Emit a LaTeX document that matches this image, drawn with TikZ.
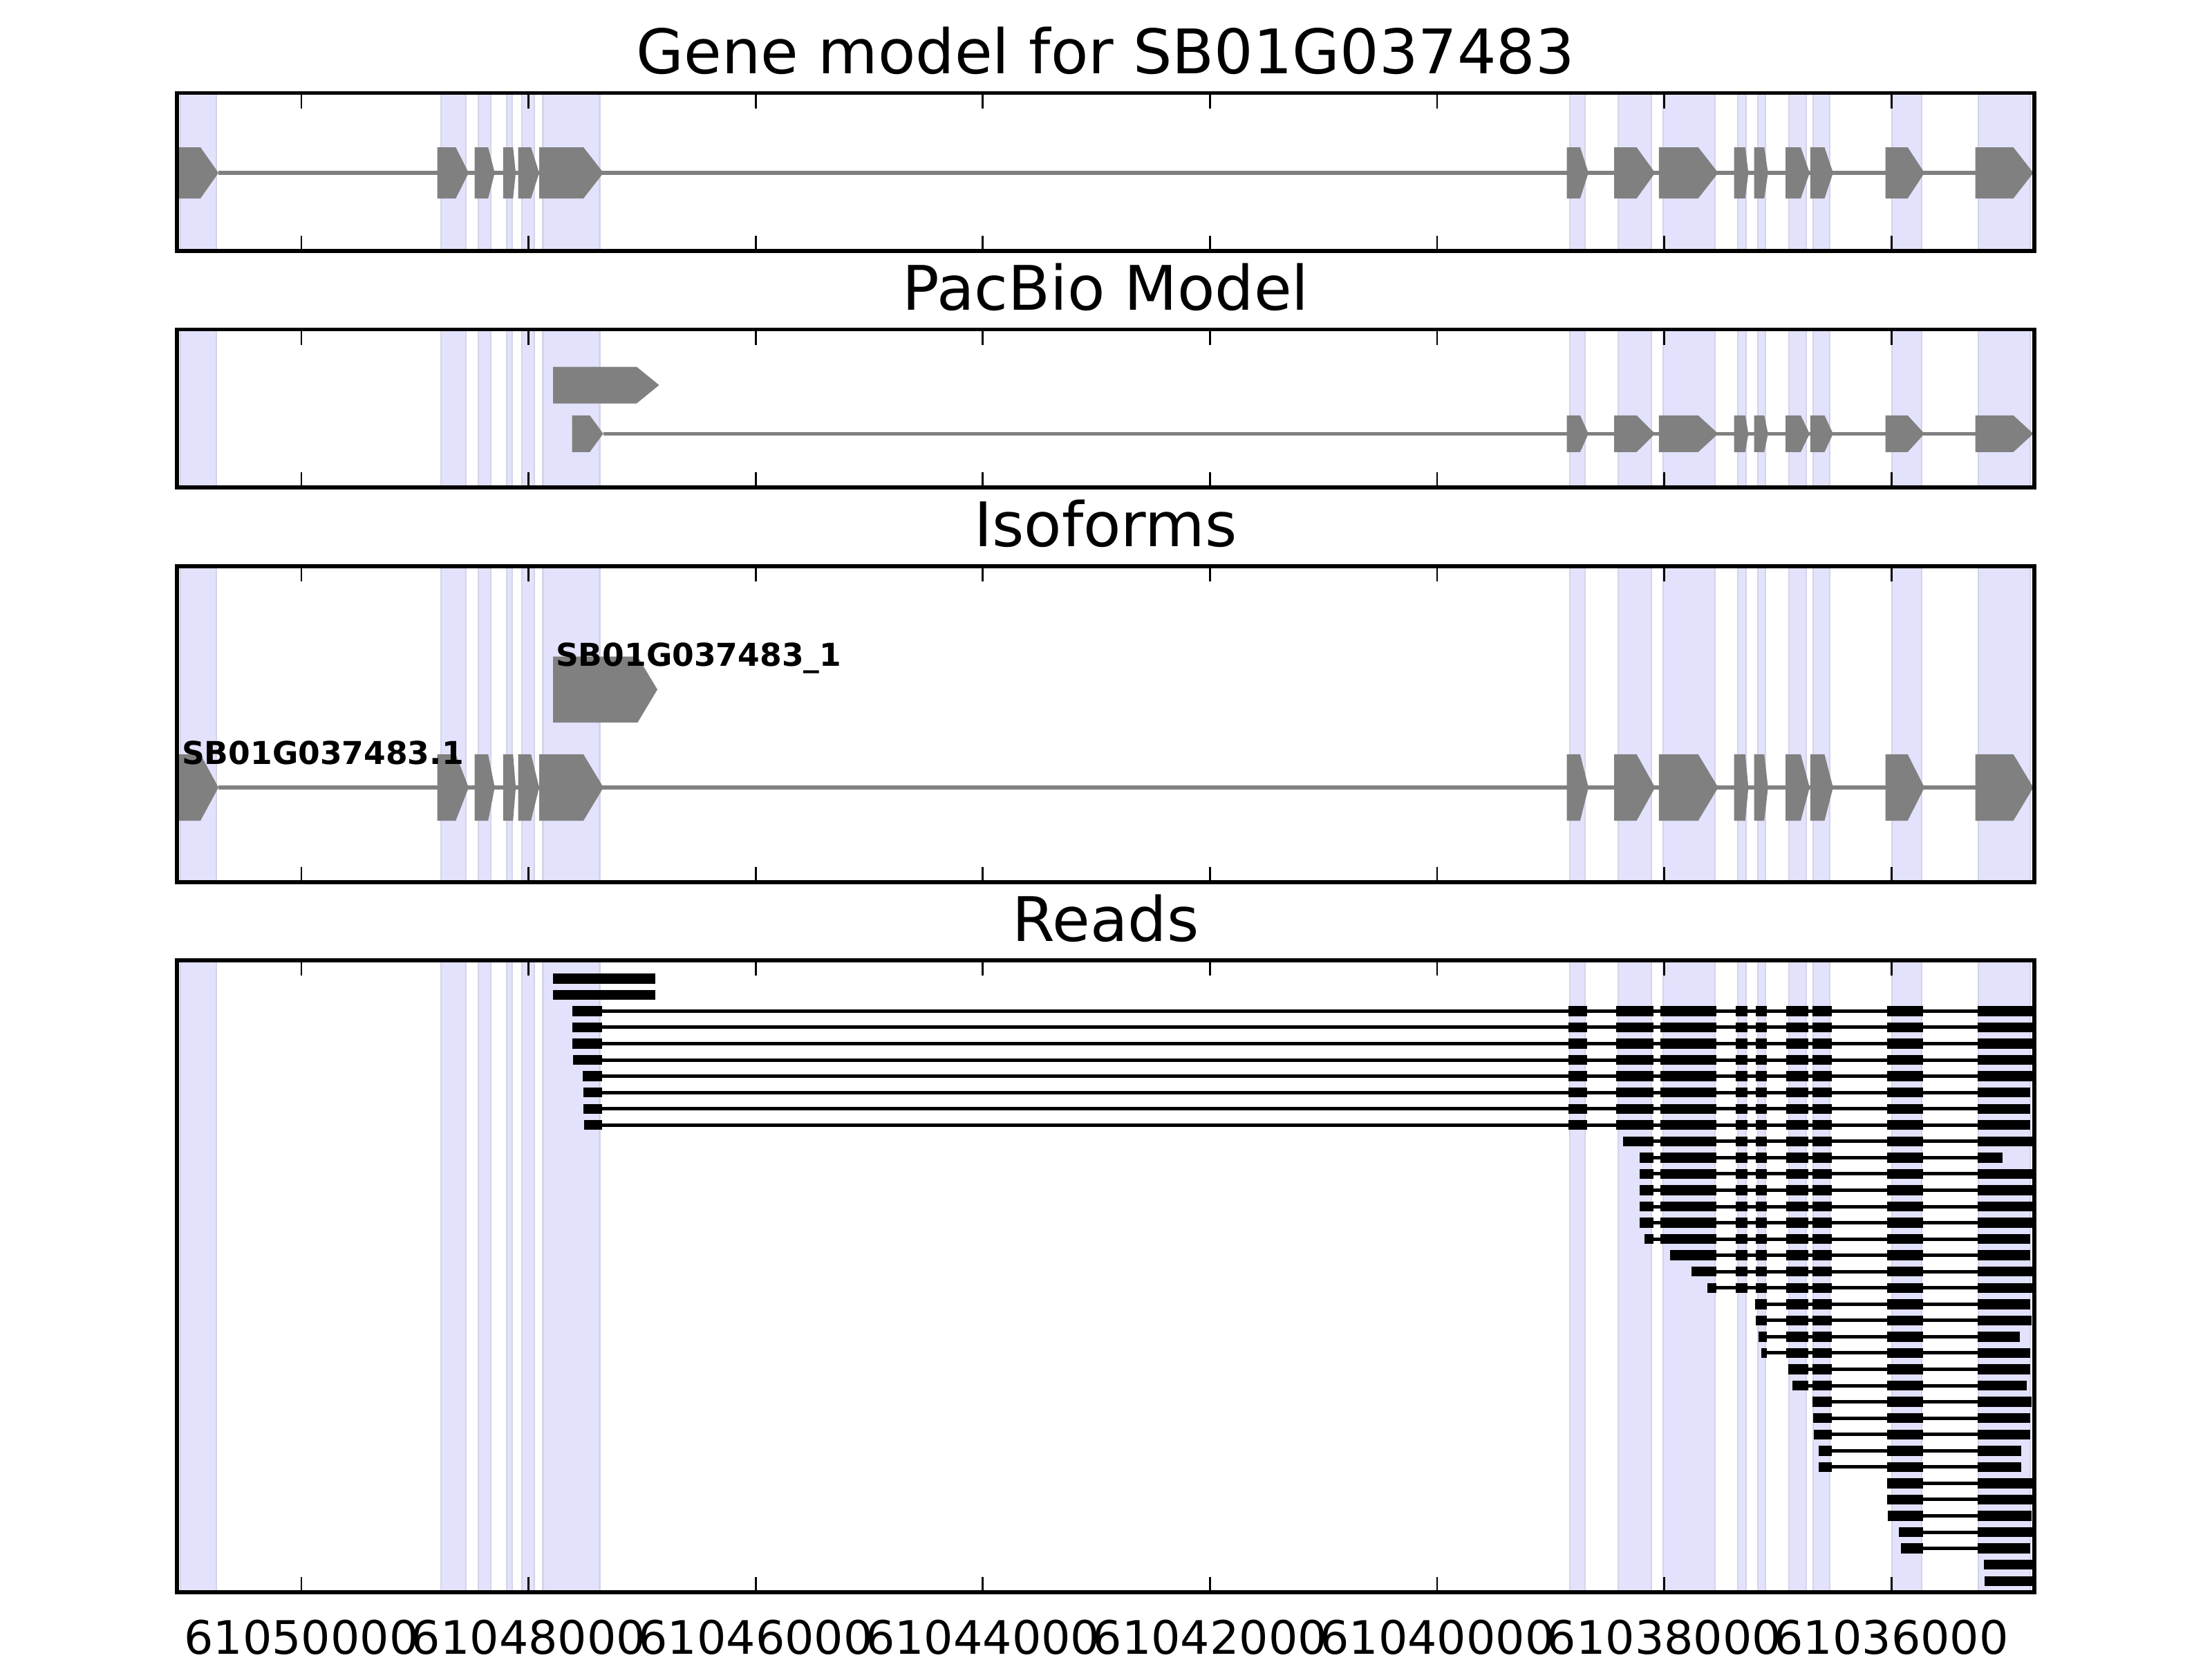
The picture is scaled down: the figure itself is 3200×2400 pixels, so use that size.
\documentclass[tikz,border=0pt]{standalone}
\usepackage{fontspec}
\setmainfont{DejaVu Sans}
\usepackage{tikz}

\definecolor{spanfill}{RGB}{226,226,253}
\definecolor{spanline}{RGB}{212,212,232}
\definecolor{exongray}{RGB}{128,128,128}

\def\spanlist{261/313,638/674,692/710,733/741,755/773,785.5/867.5,2271/2293,2341/2389,2406/2481,2514/2526,2543/2554,2588/2613,2623/2647,2737/2780,2862/2937}
\def\tickxs{436,764.6,1093.2,1421.8,1750.4,2079,2407.6,2736.2}
\def\leftexons{259/290/316,632.5/659.3/678,686.7/706.2/715.7,727.9/742.2/746.1,749.5/768.2/780,780/844/873}
\def\rightexons{2266.6/2285.9/2297.9,2335/2367.6/2394.3,2399.8/2456.7/2485.6,2508.6/2524.7/2529.3,2537.5/2552.2/2557.7,2583/2605/2617.9,2618.8/2639.4/2651.8,2727.6/2759.7/2784,2857.5/2912.6/2941.5}
\def\midreads{2402/2483,2511/2528,2540/2556,2584/2616,2622/2650,2730/2782}

\newcommand{\panelspans}[2]{%
  \foreach \a/\b in \spanlist
    \filldraw[span] (\a,#1) rectangle (\b,#2);
}
\newcommand{\panelframe}[2]{%
  \foreach \tx in \tickxs {
    \draw[tick] (\tx,#1) -- ++(0,22);
    \draw[tick] (\tx,#2) -- ++(0,-22);
  }
  \draw[frame] (256,#1) rectangle (2943,#2);
}
\newcommand{\transcript}[5]{%
  \draw[intron] (#3,#1) -- (#4,#1);
  \edef\exlist{#5}
  \foreach \s/\m/\tp in \exlist
    \fill[exon] (\s,#1-#2) -- (\m,#1-#2) -- (\tp,#1) -- (\m,#1+#2) -- (\s,#1+#2) -- cycle;
}
\newcommand{\readrow}[4]{%
  \pgfmathsetmacro\ry{1415.3+23.55*(#1-1)}
  \draw[readline] (#2,\ry) -- (#3,\ry);
  \edef\blist{#4}
  \foreach \s/\e in \blist
    \fill (\s,\ry-7.2) rectangle (\e,\ry+7.2);
}

\begin{document}
\begin{tikzpicture}[x=0.18pt, y=-0.18pt,
    span/.style={fill=spanfill, draw=spanline, line width=0.5pt},
    frame/.style={line width=1pt},
    tick/.style={line width=0.5pt},
    exon/.style={exongray},
    intron/.style={exongray, line width=1pt},
    readline/.style={line width=0.9pt},
    title/.style={anchor=base, inner sep=0pt, font=\fontsize{16}{19}\selectfont},
    ticklabel/.style={anchor=base, inner sep=0pt, font=\fontsize{12}{14}\selectfont},
    isolabel/.style={anchor=base west, inner sep=0pt, font=\bfseries\fontsize{8.2}{10}\selectfont}]
    \useasboundingbox (0,0) rectangle (3200,2400);

    \panelspans{134.7}{363.2}
    \transcript{250}{37}{316}{2857.5}{\leftexons,\rightexons}
    \panelframe{134.7}{363.2}
    \node[title] (modeltitle) at (1599.5,106.5) {Gene model for SB01G037483};

    \panelspans{476.7}{705.2}
    \transcript{557}{26.5}{953.5}{953.5}{800/921/953.5}
    \transcript{627.3}{26.5}{872.6}{2857.5}{827.5/853.2/872.6,\rightexons}
    \panelframe{476.7}{705.2}
    \node[title] (pacbiotitle) at (1599.5,448.5) {PacBio Model};

    \panelspans{818.7}{1275.7}
    \transcript{997.3}{47.7}{951}{951}{800/922.4/951}
    \transcript{1139}{48}{316}{2857.5}{\leftexons,\rightexons}
    \node[isolabel] (isoupper) at (803,963) {SB01G037483\_1};
    \node[isolabel] (isolower) at (262,1105) {SB01G037483.1};
    \panelframe{818.7}{1275.7}
    \node[title] (isotitle) at (1599.5,790.5) {Isoforms};

    \panelspans{1389.2}{2303.2}
    \readrow{1}{800}{948}{800/948}
    \readrow{2}{800}{948}{800/948}
    \readrow{3}{828}{2940}{828/871,2269/2296,2338/2392,\midreads,2861/2940}
    \readrow{4}{828}{2940}{828/871,2269/2296,2338/2392,\midreads,2861/2940}
    \readrow{5}{828}{2940}{828/871,2269/2296,2338/2392,\midreads,2861/2940}
    \readrow{6}{829}{2940}{829/871,2269/2296,2338/2392,\midreads,2861/2940}
    \readrow{7}{843}{2940}{843/871,2269/2296,2338/2392,\midreads,2861/2940}
    \readrow{8}{844}{2937}{844/871,2269/2296,2338/2392,\midreads,2861/2937}
    \readrow{9}{844}{2937}{844/871,2269/2296,2338/2392,\midreads,2861/2937}
    \readrow{10}{845}{2937}{845/871,2269/2296,2338/2392,\midreads,2861/2937}
    \readrow{11}{2348}{2941}{2348/2392,\midreads,2861/2941}
    \readrow{12}{2372}{2897}{2372/2392,\midreads,2861/2897}
    \readrow{13}{2372}{2940}{2372/2392,\midreads,2861/2940}
    \readrow{14}{2372}{2940}{2372/2392,\midreads,2861/2940}
    \readrow{15}{2372}{2940}{2372/2392,\midreads,2861/2940}
    \readrow{16}{2372}{2940}{2372/2392,\midreads,2861/2940}
    \readrow{17}{2379}{2937}{2379/2392,\midreads,2861/2937}
    \readrow{18}{2416}{2937}{2416/2483,2511/2528,2540/2556,2584/2616,2622/2650,2730/2782,2861/2937}
    \readrow{19}{2447}{2940}{2447/2483,2511/2528,2540/2556,2584/2616,2622/2650,2730/2782,2861/2940}
    \readrow{20}{2470}{2940}{2470/2483,2511/2528,2540/2556,2584/2616,2622/2650,2730/2782,2861/2940}
    \readrow{21}{2539}{2937}{2539/2556,2584/2616,2622/2650,2730/2782,2861/2937}
    \readrow{22}{2540}{2939}{2540/2556,2584/2616,2622/2650,2730/2782,2861/2939}
    \readrow{23}{2544}{2922}{2544/2556,2584/2616,2622/2650,2730/2782,2861/2922}
    \readrow{24}{2548}{2937}{2548/2556,2584/2616,2622/2650,2730/2782,2861/2937}
    \readrow{25}{2587}{2937}{2587/2616,2622/2650,2730/2782,2861/2937}
    \readrow{26}{2593}{2932}{2593/2616,2622/2650,2730/2782,2861/2932}
    \readrow{27}{2622}{2939}{2622/2650,2730/2782,2861/2939}
    \readrow{28}{2623}{2937}{2623/2650,2730/2782,2861/2937}
    \readrow{29}{2624}{2937}{2624/2650,2730/2782,2861/2937}
    \readrow{30}{2631}{2924}{2631/2650,2730/2782,2861/2924}
    \readrow{31}{2631}{2924}{2631/2650,2730/2782,2861/2924}
    \readrow{32}{2730}{2940}{2730/2782,2861/2940}
    \readrow{33}{2730}{2940}{2730/2782,2861/2940}
    \readrow{34}{2731}{2939}{2731/2782,2861/2939}
    \readrow{35}{2747}{2940}{2747/2782,2861/2940}
    \readrow{36}{2750}{2937}{2750/2782,2861/2937}
    \readrow{37}{2870}{2940}{2870/2940}
    \readrow{38}{2871}{2940}{2871/2940}
    \panelframe{1389.2}{2303.2}
    \node[title] (readstitle) at (1599.5,1361.5) {Reads};

    \foreach \tx/\lab [count=\i] in {436/61050000,764.6/61048000,1093.2/61046000,1421.8/61044000,1750.4/61042000,2079/61040000,2407.6/61038000,2736.2/61036000}
      \node[ticklabel] (xtick\i) at (\tx,2392) {\lab};
\end{tikzpicture}
\end{document}
